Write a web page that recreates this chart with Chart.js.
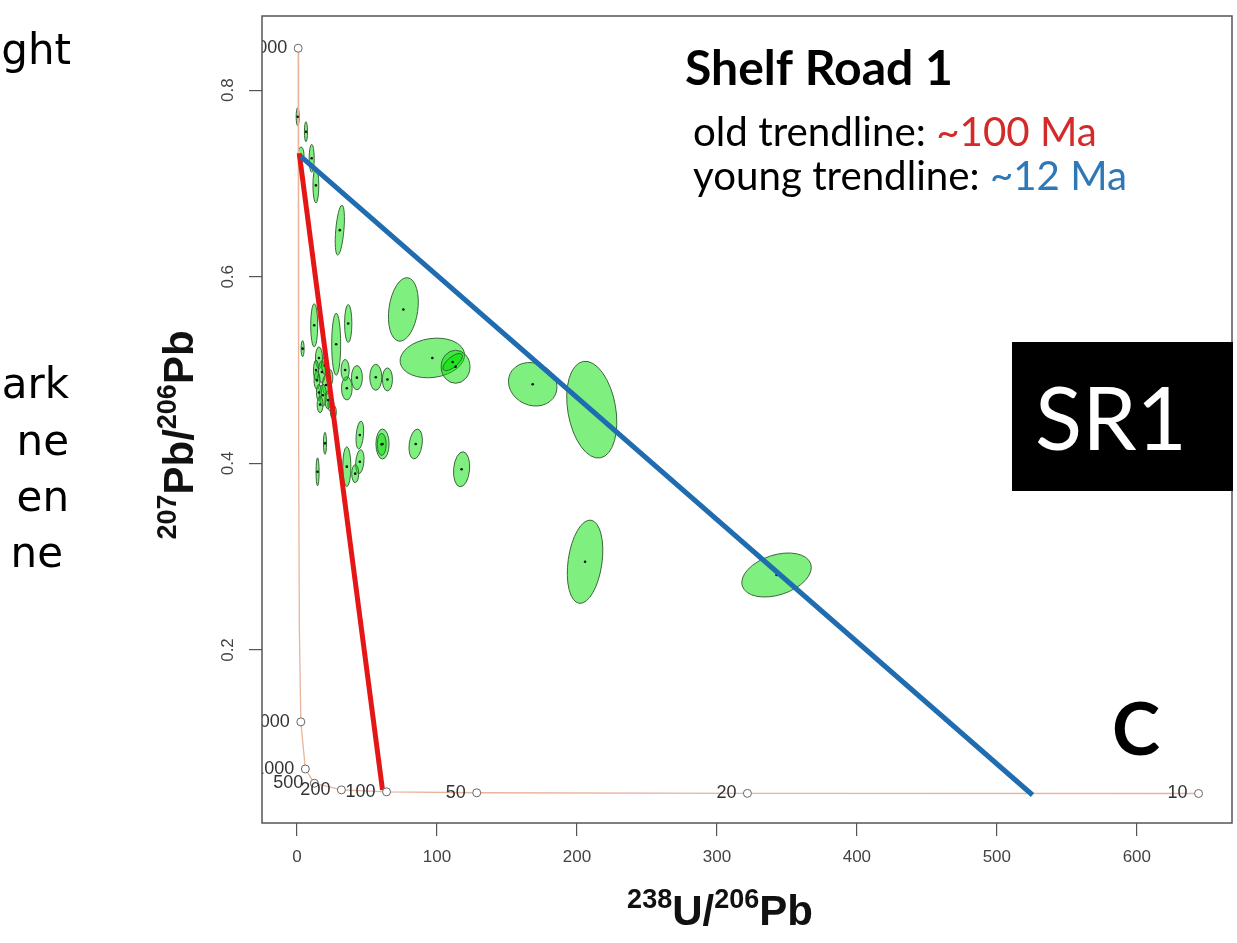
<!DOCTYPE html>
<html>
<head>
<meta charset="utf-8">
<script src="https://cdn.jsdelivr.net/npm/chart.js@4.4.0/dist/chart.umd.min.js"></script>
<style>
  html, body { margin: 0; padding: 0; background: #fff; }
  #wrap { width: 1237px; height: 943px; }
</style>
</head>
<body>
<div id="wrap"><canvas id="grafico" width="1237" height="943"></canvas></div>
<script>
// Tera-Wasserburg concordia
const concordiaAge = [5000, 4000, 3000, 2000, 1000, 500, 200, 100, 50, 20, 10];
const concordiaX = [0.853, 1.163, 1.688, 2.749, 5.96, 12.40, 31.73, 63.97, 128.4, 321.8, 644.1];
const concordiaY = [0.845, 0.425, 0.2226, 0.1230, 0.0725, 0.0572, 0.0501, 0.0480, 0.0470, 0.0464, 0.0462];
const labelledAges = [5000, 2000, 1000, 500, 200, 100, 50, 20, 10];

// error ellipses: centre, half-width (x units), half-height (y units), tilt in degrees
const ellX = [76.0, 96.7, 113.3, 111.2, 168.4, 210.6, 205.8, 342.6, 84.8, 117.6, 56.3, 64.6, 42.8, 35.6, 34.4, 28.0, 36.6, 12.3, 4.0, 61.1, 60.5, 44.9, 44.9, 41.6, 35.6, 20.0, 14.7, 15.7, 17.8, 14.3, 20.7, 18.5, 22.1, 24.2, 15.7, 0.5, 6.4, 2.9, 10.5, 13.5, 30.6, 19.8, 23.5, 16.5, 26.0, 13.6];
const ellY = [0.565, 0.513, 0.5036, 0.5086, 0.4848, 0.4576, 0.2946, 0.2804, 0.4208, 0.3937, 0.4923, 0.490, 0.4919, 0.4805, 0.5001, 0.5277, 0.550, 0.548, 0.523, 0.4208, 0.4204, 0.4304, 0.4018, 0.389, 0.3965, 0.4215, 0.391, 0.513, 0.498, 0.489, 0.484, 0.473, 0.468, 0.463, 0.476, 0.7716, 0.7555, 0.7305, 0.727, 0.698, 0.650, 0.505, 0.492, 0.463, 0.455, 0.500];
const ellErrX = [10.3, 23.2, 10.3, 8.6, 17.8, 17.1, 12.1, 25.7, 4.6, 5.7, 4.3, 3.6, 3.9, 3.8, 2.9, 3.2, 2.6, 2.5, 1.1, 4.7, 3.2, 2.6, 2.9, 2.5, 2.9, 1.1, 1.1, 2.5, 2.5, 2.1, 2.5, 2.5, 2.1, 2.1, 1.8, 1.1, 1.1, 2.1, 1.8, 2.1, 2.9, 2.1, 2.1, 2.1, 2.1, 1.8];
const ellErrY = [0.0343, 0.0209, 0.0177, 0.0054, 0.0225, 0.0525, 0.0450, 0.0214, 0.0161, 0.0188, 0.0139, 0.0123, 0.0129, 0.0125, 0.0113, 0.0332, 0.0204, 0.0230, 0.0086, 0.0161, 0.0118, 0.0150, 0.0129, 0.0096, 0.0214, 0.0118, 0.0150, 0.0118, 0.0118, 0.0096, 0.0107, 0.0118, 0.0096, 0.0075, 0.0086, 0.0096, 0.0107, 0.0086, 0.0150, 0.0188, 0.0268, 0.0096, 0.0086, 0.0086, 0.0075, 0.0107];
const ellTilt = [8, -8, 0, -40, 25, -10, 8, -18, 8, 5, 0, 0, 0, 0, 0, 0, 0, 0, 0, 0, 0, 5, 5, 0, 0, 0, 0, 0, 0, 0, 0, 0, 0, 0, 0, 0, 0, 0, 0, 0, 5, 0, 0, 0, 0, 0];

// trendlines
const oldTrendX = [1.6, 61.1];
const oldTrendY = [0.7324, 0.050];
const youngTrendX = [2.85, 525.5];
const youngTrendY = [0.7287, 0.0446];

const xTicks = [0, 100, 200, 300, 400, 500, 600];
const yTicks = [0.2, 0.4, 0.6, 0.8];

const toPoints = (xs, ys) => xs.map((v, i) => ({ x: v, y: ys[i] }));

const tickPoints = labelledAges.map((a) => {
    const i = concordiaAge.indexOf(a);
    return { x: concordiaX[i], y: concordiaY[i], age: a };
});

function fitSize(ctx, text, weight, family, width) {
    ctx.font = `${weight} 100px ${family}`;
    return 100 * width / ctx.measureText(text).width;
}

function drawSupText(ctx, parts, x, y, main, sup, rise) {
    // parts: [text, isSup]
    let total = 0;
    for (const [t, s] of parts) {
        ctx.font = s ? sup : main;
        total += ctx.measureText(t).width;
    }
    let cx = x - total / 2;
    for (const [t, s] of parts) {
        ctx.font = s ? sup : main;
        ctx.fillText(t, cx, s ? y - rise : y);
        cx += ctx.measureText(t).width;
    }
}

const ellipses = {
    id: "ellipses",
    beforeDatasetsDraw(chart) {
        const { ctx, chartArea, scales: { x, y } } = chart;
        ctx.save();
        ctx.beginPath();
        ctx.rect(chartArea.left, chartArea.top, chartArea.width, chartArea.height);
        ctx.clip();
        for (let i = 0; i < ellX.length; i++) {
            const cx = x.getPixelForValue(ellX[i]);
            const cy = y.getPixelForValue(ellY[i]);
            const rx = Math.abs(x.getPixelForValue(ellX[i] + ellErrX[i]) - cx);
            const ry = Math.abs(y.getPixelForValue(ellY[i] + ellErrY[i]) - cy);
            ctx.beginPath();
            ctx.ellipse(cx, cy, rx, ry, ellTilt[i] * Math.PI / 180, 0, 2 * Math.PI);
            ctx.fillStyle = "rgba(0, 225, 0, 0.5)";
            ctx.fill();
            ctx.lineWidth = 1;
            ctx.strokeStyle = "#3a663a";
            ctx.stroke();
        }
        ctx.restore();
    }
};

const decorations = {
    id: "decorations",
    afterDatasetsDraw(chart) {
        const { ctx, chartArea, scales: { x, y } } = chart;
        ctx.save();
        ctx.beginPath();
        ctx.rect(chartArea.left, chartArea.top, chartArea.width, chartArea.height);
        ctx.clip();
        ctx.fillStyle = "#333";
        ctx.font = "18px 'Liberation Sans', Arial, sans-serif";
        ctx.textAlign = "right";
        ctx.textBaseline = "middle";
        for (const p of tickPoints) {
            ctx.fillText(String(p.age), x.getPixelForValue(p.x) - 11, y.getPixelForValue(p.y));
        }
        ctx.restore();
    },
    afterDraw(chart) {
        const { ctx, chartArea, scales: { x, y } } = chart;
        ctx.save();

        // frame
        ctx.strokeStyle = "#555";
        ctx.lineWidth = 1.5;
        ctx.strokeRect(chartArea.left, chartArea.top, chartArea.width, chartArea.height);

        // tick labels
        ctx.fillStyle = "#444";
        ctx.font = "17px 'Liberation Sans', Arial, sans-serif";
        ctx.textAlign = "center";
        ctx.textBaseline = "middle";
        for (const v of xTicks) {
            ctx.fillText(String(v), x.getPixelForValue(v), 857);
        }
        for (const v of yTicks) {
            ctx.save();
            ctx.translate(228, y.getPixelForValue(v));
            ctx.rotate(-Math.PI / 2);
            ctx.fillText(v.toFixed(1), 0, 0);
            ctx.restore();
        }

        // axis titles
        ctx.fillStyle = "#111";
        ctx.textAlign = "left";
        ctx.textBaseline = "alphabetic";
        const mainF = "bold 42px 'Liberation Sans', Arial, sans-serif";
        const supF = "bold 27px 'Liberation Sans', Arial, sans-serif";
        drawSupText(ctx, [["238", true], ["U/", false], ["206", true], ["Pb", false]], 720, 925, mainF, supF, 17);
        ctx.save();
        ctx.translate(193, 435);
        ctx.rotate(-Math.PI / 2);
        drawSupText(ctx, [["207", true], ["Pb/", false], ["206", true], ["Pb", false]], 0, 0, mainF, supF, 17);
        ctx.restore();

        // sample title
        const fam = "Lato, 'Open Sans', sans-serif";
        ctx.fillStyle = "#000";
        let s = fitSize(ctx, "Shelf Road 1", "bold", fam, 268);
        ctx.font = `bold ${s}px ${fam}`;
        ctx.fillText("Shelf Road 1", 685, 85);

        s = fitSize(ctx, "old trendline: ~100 Ma", "normal", fam, 404);
        ctx.font = `normal ${s}px ${fam}`;
        ctx.fillStyle = "#000";
        ctx.fillText("old trendline: ", 693, 146);
        let w = ctx.measureText("old trendline: ").width;
        ctx.fillStyle = "#d42a2a";
        ctx.fillText("~100 Ma", 693 + w, 146);

        s = fitSize(ctx, "young trendline: ~12 Ma", "normal", fam, 434);
        ctx.font = `normal ${s}px ${fam}`;
        ctx.fillStyle = "#000";
        ctx.fillText("young trendline: ", 693, 190);
        w = ctx.measureText("young trendline: ").width;
        ctx.fillStyle = "#2e78b8";
        ctx.fillText("~12 Ma", 693 + w, 190);

        // SR1 tag
        ctx.fillStyle = "#000";
        ctx.fillRect(1012, 342, 221, 149);
        s = fitSize(ctx, "SR1", "normal", fam, 152);
        ctx.font = `normal ${s}px ${fam}`;
        ctx.fillStyle = "#fff";
        ctx.fillText("SR1", 1035, 450);

        // panel letter
        s = fitSize(ctx, "C", "bold", fam, 48);
        ctx.font = `bold ${s}px ${fam}`;
        ctx.fillStyle = "#000";
        ctx.fillText("C", 1112, 755);

        // slide text cut at the left edge
        ctx.font = "42px 'DejaVu Sans', sans-serif";
        ctx.textAlign = "right";
        ctx.fillText("ght", 71, 64);
        ctx.fillText("ark", 69, 398);
        ctx.fillText("ne", 69, 455);
        ctx.fillText("en", 69, 511);
        ctx.fillText("ne", 63, 567);

        ctx.restore();
    }
};

const ctx = document.getElementById("grafico").getContext("2d");
const grafico = new Chart(ctx, {
    type: "scatter",
    data: {
        datasets: [
            {
                label: "concordia ages",
                data: tickPoints,
                pointStyle: "circle",
                pointRadius: 4,
                pointBackgroundColor: "#fff",
                pointBorderColor: "#666",
                pointBorderWidth: 1,
                showLine: false,
            },
            {
                label: "young trendline",
                data: toPoints(youngTrendX, youngTrendY),
                showLine: true,
                borderColor: "#1f6db0",
                borderWidth: 5,
                pointRadius: 0,
            },
            {
                label: "old trendline",
                data: toPoints(oldTrendX, oldTrendY),
                showLine: true,
                borderColor: "#e51616",
                borderWidth: 5,
                pointRadius: 0,
            },
            {
                label: "centres",
                data: toPoints(ellX, ellY),
                pointRadius: 1.3,
                pointBackgroundColor: "#111",
                pointBorderWidth: 0,
                showLine: false,
            },
            {
                label: "concordia",
                data: toPoints(concordiaX, concordiaY),
                showLine: true,
                borderColor: "#e8b49c",
                borderWidth: 1.3,
                pointRadius: 0,
            },
        ],
    },
    options: {
        responsive: false,
        animation: false,
        layout: { padding: { left: 0, top: 16, right: 3, bottom: 0 } },
        plugins: { legend: { display: false }, tooltip: { enabled: false } },
        scales: {
            x: {
                type: "linear",
                min: -25,
                max: 668,
                afterBuildTicks: (s) => { s.ticks = xTicks.map((v) => ({ value: v })); },
                afterFit: (s) => { s.height = 120; },
                ticks: { display: false },
                border: { display: false },
                grid: { drawOnChartArea: false, drawTicks: true, tickLength: 13, color: "#555", lineWidth: 1.2 },
            },
            y: {
                type: "linear",
                min: 0.0146,
                max: 0.8795,
                afterBuildTicks: (s) => { s.ticks = yTicks.map((v) => ({ value: v })); },
                afterFit: (s) => { s.width = 262; },
                ticks: { display: false },
                border: { display: false },
                grid: { drawOnChartArea: false, drawTicks: true, tickLength: 13, color: "#555", lineWidth: 1.2 },
            },
        },
    },
    plugins: [ellipses, decorations],
});
</script>
</body>
</html>
